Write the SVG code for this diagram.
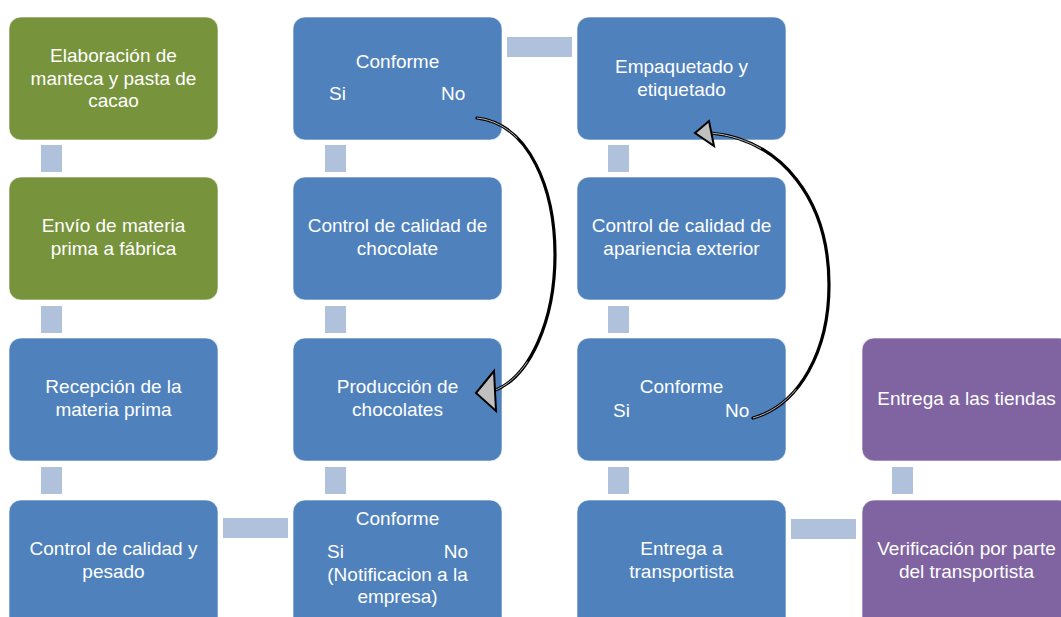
<svg xmlns="http://www.w3.org/2000/svg" width="1061" height="617" viewBox="0 0 1061 617">
<defs>
<style>
.box{stroke:#ffffff;stroke-opacity:0.6;stroke-width:1}
.blue{fill:#4F81BD}
.green{fill:#77933C}
.purple{fill:#8064A2}
.link{fill:#B0C1DC}
text{font-family:"Liberation Sans",Arial,sans-serif;font-size:19px;fill:#ffffff}
.c{text-anchor:middle}
.e{text-anchor:end}
.arrowOut{fill:none;stroke:#000000;stroke-width:3.2;stroke-linecap:round}
.arrowIn{fill:none;stroke:#b8b8b8;stroke-width:1;stroke-dasharray:14 72 14}
.head{fill:#c0c0c0;stroke:#000000;stroke-width:2;stroke-linejoin:miter}
</style>
</defs>
<rect width="1061" height="617" fill="#ffffff"/>

<g id="connectors">
<rect class="link" x="41" y="145" width="21" height="27"/>
<rect class="link" x="41" y="306" width="21" height="27"/>
<rect class="link" x="41" y="467" width="21" height="27"/>
<rect class="link" x="325" y="145" width="21" height="27"/>
<rect class="link" x="325" y="306" width="21" height="27"/>
<rect class="link" x="325" y="467" width="21" height="27"/>
<rect class="link" x="608" y="145" width="21" height="27"/>
<rect class="link" x="608" y="306" width="21" height="27"/>
<rect class="link" x="608" y="467" width="21" height="27"/>
<rect class="link" x="892" y="467" width="21" height="27"/>
<rect class="link" x="507" y="37" width="65" height="20"/>
<rect class="link" x="223" y="518" width="65" height="20"/>
<rect class="link" x="791" y="519" width="65" height="20"/>
</g>

<g id="n1"><rect class="box green" x="9" y="17" width="209" height="123" rx="12"/>
<text class="c" x="113.5" y="62">Elaboración de</text>
<text class="c" x="113.5" y="85">manteca y pasta de</text>
<text class="c" x="113.5" y="107">cacao</text></g>

<g id="n2"><rect class="box green" x="9" y="177" width="209" height="123" rx="12"/>
<text class="c" x="113.5" y="232">Envío de materia</text>
<text class="c" x="113.5" y="255">prima a fábrica</text></g>

<g id="n3"><rect class="box blue" x="9" y="338" width="209" height="123" rx="12"/>
<text class="c" x="113.5" y="393">Recepción de la</text>
<text class="c" x="113.5" y="416">materia prima</text></g>

<g id="n4"><rect class="box blue" x="9" y="500" width="209" height="130" rx="12"/>
<text class="c" x="113.5" y="555">Control de calidad y</text>
<text class="c" x="113.5" y="578">pesado</text></g>

<g id="n5"><rect class="box blue" x="293" y="17" width="209" height="123" rx="12"/>
<text class="c" x="397.5" y="68">Conforme</text>
<text x="329" y="100">Si</text>
<text x="441" y="100">No</text></g>

<g id="n6"><rect class="box blue" x="293" y="177" width="209" height="123" rx="12"/>
<text class="c" x="397.5" y="232">Control de calidad de</text>
<text class="c" x="397.5" y="255">chocolate</text></g>

<g id="n7"><rect class="box blue" x="293" y="338" width="209" height="123" rx="12"/>
<text class="c" x="397.5" y="393">Producción de</text>
<text class="c" x="397.5" y="416">chocolates</text></g>

<g id="n8"><rect class="box blue" x="293" y="500" width="209" height="130" rx="12"/>
<text class="c" x="397.5" y="525">Conforme</text>
<text x="327" y="558">Si</text>
<text class="e" x="468" y="558">No</text>
<text class="c" x="397.5" y="581">(Notificacion a la</text>
<text class="c" x="397.5" y="603">empresa)</text></g>

<g id="n9"><rect class="box blue" x="577" y="17" width="209" height="123" rx="12"/>
<text class="c" x="681.5" y="73">Empaquetado y</text>
<text class="c" x="681.5" y="96">etiquetado</text></g>

<g id="n10"><rect class="box blue" x="577" y="177" width="209" height="123" rx="12"/>
<text class="c" x="681.5" y="232">Control de calidad de</text>
<text class="c" x="681.5" y="255">apariencia exterior</text></g>

<g id="n11"><rect class="box blue" x="577" y="338" width="209" height="123" rx="12"/>
<text class="c" x="681.5" y="393">Conforme</text>
<text x="613" y="417">Si</text>
<text x="725" y="417">No</text></g>

<g id="n12"><rect class="box blue" x="577" y="500" width="209" height="130" rx="12"/>
<text class="c" x="681.5" y="555">Entrega a</text>
<text class="c" x="681.5" y="578">transportista</text></g>

<g id="n13"><rect class="box purple" x="862" y="338" width="209" height="123" rx="12"/>
<text class="c" x="966.5" y="405">Entrega a las tiendas</text></g>

<g id="n14"><rect class="box purple" x="862" y="500" width="209" height="130" rx="12"/>
<text class="c" x="966.5" y="555">Verificación por parte</text>
<text class="c" x="966.5" y="578">del transportista</text></g>

<g id="curved-arrows">
<path class="arrowOut" d="M477,118 C530,124 555,190 555,255 C555,320 530,378 493,391"/>
<path class="arrowIn" pathLength="100" d="M477,118 C530,124 555,190 555,255 C555,320 530,378 493,391"/>
<polygon class="head" points="476,393 494,371 496,411"/>
<path class="arrowOut" d="M753,418 C800,405 829,350 829,285 C829,200 782,140 711,133"/>
<path class="arrowIn" pathLength="100" d="M753,418 C800,405 829,350 829,285 C829,200 782,140 711,133"/>
<polygon class="head" points="695,133 709,121 714,146"/>
</g>
</svg>
